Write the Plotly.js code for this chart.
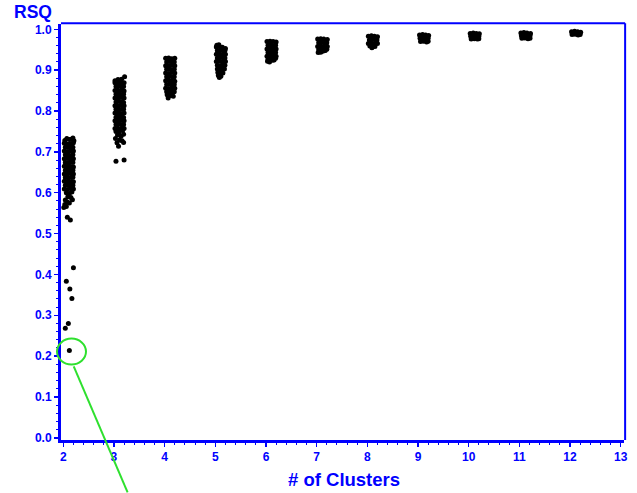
<!DOCTYPE html>
<html>
<head>
<meta charset="utf-8">
<script src="https://cdn.plot.ly/plotly-3.0.1.min.js"></script>
<style>html,body{margin:0;padding:0;background:#fff;}#chart{width:637px;height:493px;}</style>
</head>
<body>
<div id="chart"></div>
<script>
// RSQ values by number of clusters (x = cluster count with the plot's horizontal jitter)
const c2x = [2.03,2.07,2.12,2.16,2.19,2.21,
 2.02,2.08,2.14,2.20, 2.04,2.10,2.16,2.19,
 2.02,2.08,2.14,2.20, 2.04,2.10,2.16,2.19,
 2.02,2.08,2.14,2.20, 2.04,2.10,2.16,2.19,
 2.02,2.08,2.14,2.20, 2.04,2.10,2.16,2.19,
 2.02,2.08,2.14,2.20, 2.04,2.10,2.16,2.19,
 2.02,2.08,2.14,2.20, 2.04,2.10,2.16,2.19,
 2.02,2.08,2.14,2.20,
 2.06,2.12,2.17,2.09,2.15,2.04,2.18,2.08,2.03,2.12,2.01,2.06,2.08,2.14,
 2.20,2.06,2.13,2.17,2.10,2.04,2.12];
const c2y = [0.728,0.733,0.730,0.731,0.734,0.727,
 0.721,0.719,0.720,0.722, 0.711,0.712,0.710,0.711,
 0.702,0.701,0.703,0.702, 0.693,0.692,0.691,0.693,
 0.683,0.684,0.682,0.683, 0.674,0.673,0.675,0.674,
 0.665,0.664,0.664,0.663, 0.655,0.656,0.654,0.655,
 0.646,0.645,0.647,0.646, 0.637,0.636,0.637,0.638,
 0.628,0.627,0.626,0.627, 0.618,0.619,0.617,0.618,
 0.609,0.608,0.610,0.609,
 0.600,0.598,0.602,0.590,0.588,0.582,0.583,0.577,0.571,0.575,0.564,0.566,0.540,0.533,
 0.416,0.383,0.364,0.341,0.280,0.268,0.214];

const c3x = [3.02,3.08,3.15,3.21,
 3.02,3.08,3.14,3.20, 3.04,3.10,3.16,3.19,
 3.02,3.08,3.14,3.20, 3.04,3.10,3.16,3.19,
 3.02,3.08,3.14,3.20, 3.04,3.10,3.16,3.19,
 3.02,3.08,3.14,3.20, 3.04,3.10,3.16,3.19,
 3.02,3.08,3.14,3.20, 3.04,3.10,3.16,3.19,
 3.02,3.08,3.14,3.20, 3.04,3.10,3.16,3.19,
 3.02,3.08,3.14,3.20,
 3.04,3.10,3.17,3.07,3.14,3.19,3.03,3.11,3.16,3.06,3.19,3.09,
 3.04,3.20];
const c3y = [0.874,0.877,0.878,0.884,
 0.869,0.870,0.868,0.869, 0.860,0.861,0.859,0.860,
 0.850,0.851,0.850,0.849, 0.841,0.842,0.840,0.841,
 0.832,0.831,0.833,0.832, 0.822,0.823,0.822,0.821,
 0.813,0.812,0.814,0.813, 0.804,0.803,0.805,0.804,
 0.795,0.796,0.794,0.795, 0.785,0.786,0.785,0.784,
 0.776,0.775,0.777,0.776, 0.767,0.768,0.766,0.767,
 0.757,0.758,0.756,0.757,
 0.750,0.748,0.752,0.741,0.738,0.743,0.733,0.729,0.727,0.722,0.723,0.714,
 0.677,0.680];

const c4x = [4.02,4.08,4.14,4.20, 4.04,4.10,4.16,4.19,
 4.02,4.08,4.14,4.20, 4.04,4.10,4.16,4.19,
 4.02,4.08,4.14,4.20, 4.04,4.10,4.16,4.19,
 4.02,4.08,4.14,4.20, 4.04,4.10,4.16,4.19,
 4.02,4.08,4.14,4.20, 4.04,4.10,4.16,4.19,
 4.05,4.11,4.17,4.07];
const c4y = [0.929,0.930,0.928,0.929, 0.920,0.921,0.919,0.920,
 0.911,0.910,0.912,0.911, 0.902,0.903,0.901,0.902,
 0.893,0.892,0.894,0.893, 0.884,0.885,0.883,0.884,
 0.874,0.875,0.874,0.873, 0.865,0.866,0.864,0.865,
 0.856,0.855,0.857,0.856, 0.847,0.848,0.846,0.847,
 0.840,0.838,0.836,0.832];

const c5x = [5.03,5.07,
 5.02,5.08,5.14,5.20, 5.04,5.10,5.16,5.19,
 5.02,5.08,5.14,5.20, 5.04,5.10,5.16,5.19,
 5.02,5.08,5.14,5.20, 5.04,5.10,5.16,5.19,
 5.04,5.09,5.14,5.18, 5.05,5.10,5.15,
 5.06,5.11,5.08];
const c5y = [0.961,0.962,
 0.957,0.958,0.956,0.953, 0.948,0.949,0.947,0.948,
 0.939,0.940,0.938,0.939, 0.930,0.931,0.929,0.930,
 0.921,0.922,0.920,0.921, 0.912,0.911,0.913,0.912,
 0.903,0.904,0.902,0.903, 0.894,0.895,0.893,
 0.887,0.885,0.882];

const c6x = [6.02,6.08,6.14,6.20, 6.04,6.10,6.16,6.19,
 6.02,6.08,6.14,6.20, 6.04,6.10,6.16,6.19,
 6.02,6.08,6.14,6.20, 6.04,6.10,6.16,6.19,
 6.03,6.07,6.13];
const c6y = [0.970,0.971,0.970,0.969, 0.961,0.962,0.960,0.961,
 0.952,0.953,0.951,0.952, 0.943,0.944,0.942,0.943,
 0.934,0.935,0.933,0.934, 0.926,0.927,0.925,0.929,
 0.922,0.920,0.924];

const c7x = [7.02,7.08,7.14,7.21, 7.04,7.10,7.16,7.20,
 7.02,7.08,7.14,7.21, 7.04,7.10,7.16,7.20,
 7.03,7.08,7.12,7.17];
const c7y = [0.976,0.977,0.976,0.975, 0.967,0.968,0.966,0.967,
 0.958,0.959,0.957,0.958, 0.950,0.950,0.949,0.951,
 0.943,0.944,0.946,0.948];

const c8x = [8.02,8.08,8.14,8.20, 8.04,8.10,8.16,8.19,
 8.02,8.08,8.14,8.20, 8.05,8.10,8.15,8.09];
const c8y = [0.983,0.984,0.983,0.982, 0.974,0.975,0.973,0.974,
 0.965,0.966,0.964,0.965, 0.959,0.957,0.958,0.955];

const c9x = [9.03,9.09,9.15,9.21, 9.04,9.10,9.16,9.20, 9.05,9.11,9.17,9.20];
const c9y = [0.986,0.987,0.986,0.985, 0.978,0.979,0.977,0.978, 0.970,0.971,0.969,0.971];

const c10x = [10.03,10.09,10.15,10.21, 10.04,10.10,10.16,10.20, 10.05,10.11,10.17,10.20];
const c10y = [0.990,0.991,0.990,0.989, 0.983,0.984,0.982,0.983, 0.976,0.977,0.976,0.977];

const c11x = [11.03,11.09,11.15,11.22, 11.04,11.10,11.16,11.21, 11.05,11.11,11.17,11.21];
const c11y = [0.991,0.992,0.991,0.990, 0.984,0.985,0.983,0.984, 0.978,0.979,0.977,0.978];

const c12x = [12.03,12.09,12.15,12.21, 12.04,12.10,12.16,12.20];
const c12y = [0.994,0.995,0.994,0.993, 0.987,0.988,0.986,0.987];

const xTicks = [2,3,4,5,6,7,8,9,10,11,12,13];
const yTicks = [0.0,0.1,0.2,0.3,0.4,0.5,0.6,0.7,0.8,0.9,1.0];

const allX = [].concat(c2x,c3x,c4x,c5x,c6x,c7x,c8x,c9x,c10x,c11x,c12x);
const allY = [].concat(c2y,c3y,c4y,c5y,c6y,c7y,c8y,c9y,c10y,c11y,c12y);

const BLUE = '#0000FF';
const GREEN = '#2EE02E';
const FONT = 'Liberation Sans, Arial, sans-serif';

const trace = {
  x: allX, y: allY, type: 'scatter', mode: 'markers',
  marker: {color: '#000000', size: 5, line: {width: 0}},
  hoverinfo: 'skip', cliponaxis: false
};

const axisCommon = {
  ticks: 'outside', ticklen: 4, tickwidth: 1.5, tickcolor: BLUE,
  showline: true, linecolor: BLUE, linewidth: 3,
  showgrid: false, zeroline: false, fixedrange: true,
  tickfont: {family: FONT, size: 12, color: BLUE, weight: 'bold'}
};

const layout = {
  width: 637, height: 493,
  margin: {l: 61, r: 13, t: 24, b: 52.5},
  paper_bgcolor: '#ffffff', plot_bgcolor: '#ffffff',
  showlegend: false,
  xaxis: Object.assign({}, axisCommon, {
    range: [1.955, 13.065], tickmode: 'array', tickvals: xTicks,
    ticktext: xTicks.map(v => '<b>' + v + '</b>'),
    minor: {dtick: 0.2, tick0: 2, ticks: 'outside', ticklen: 2, tickwidth: 1, tickcolor: BLUE, showgrid: false}
  }),
  yaxis: Object.assign({}, axisCommon, {
    range: [-0.0054, 1.013], tickmode: 'array', tickvals: yTicks,
    ticktext: yTicks.map(v => '<b>' + v.toFixed(1) + '</b>'),
    minor: {dtick: 0.02, tick0: 0, ticks: 'outside', ticklen: 2, tickwidth: 1, tickcolor: BLUE, showgrid: false}
  }),
  shapes: [
    {type: 'line', xref: 'paper', yref: 'paper', x0: 0, x1: 1.002, y0: 1.002, y1: 1.002, line: {color: BLUE, width: 2}},
    {type: 'line', xref: 'paper', yref: 'paper', x0: 1.002, x1: 1.002, y0: 0, y1: 1.002, line: {color: BLUE, width: 2}},
    {type: 'circle', xref: 'paper', yref: 'paper', x0: -0.0071, x1: 0.0444, y0: 0.1813, y1: 0.2437, line: {color: GREEN, width: 2}},
    {type: 'line', xref: 'paper', yref: 'paper', x0: 0.0226, y0: 0.1772, x1: 0.1183, y1: -0.1261, line: {color: GREEN, width: 2}}
  ],
  annotations: [
    {text: '<b>RSQ</b>', xref: 'paper', yref: 'paper', x: -0.0492, y: 1.0288, xanchor: 'center', yanchor: 'middle',
     showarrow: false, font: {family: FONT, size: 17.5, color: BLUE, weight: 'bold'}},
    {text: '<b># of Clusters</b>', xref: 'paper', yref: 'paper', x: 0.5027, y: -0.0948, xanchor: 'center', yanchor: 'middle',
     showarrow: false, font: {family: FONT, size: 18.5, color: BLUE, weight: 'bold'}}
  ]
};

Plotly.newPlot('chart', [trace], layout, {displayModeBar: false, staticPlot: true});
</script>
</body>
</html>
